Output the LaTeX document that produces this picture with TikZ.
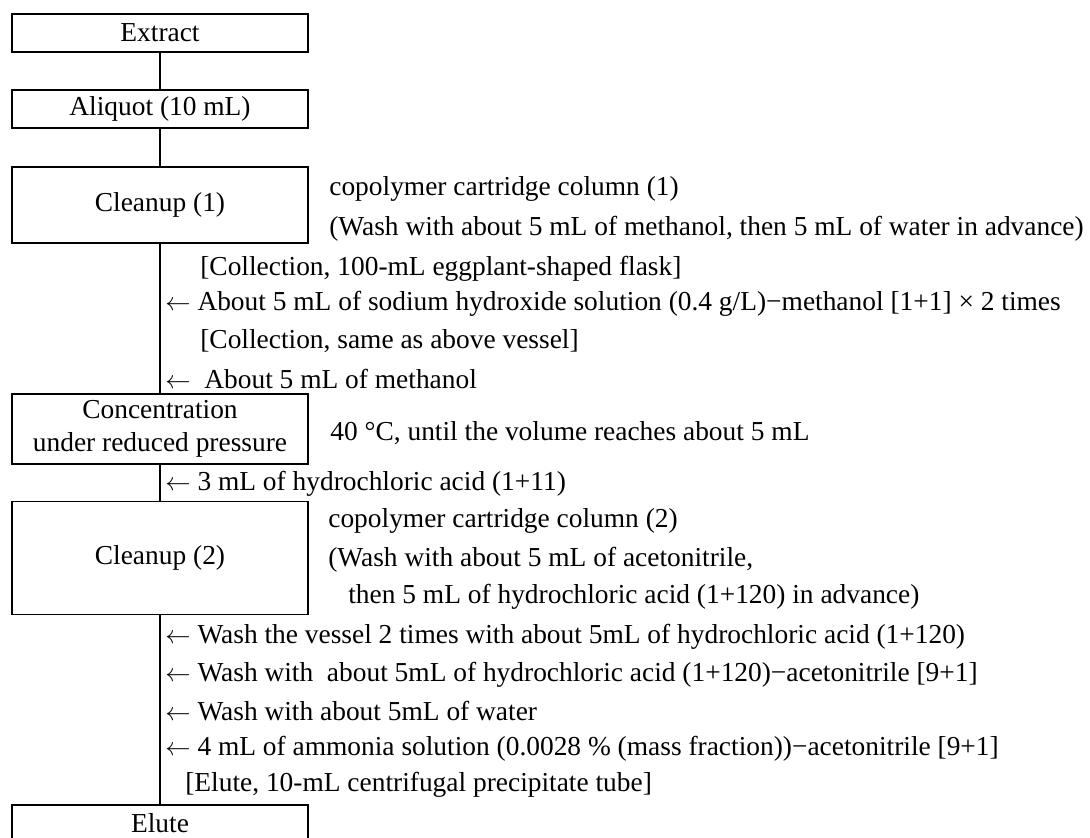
\documentclass[tikz,border=0pt]{standalone}
\usepackage{fontspec}
\setmainfont{Liberation Serif}
\begin{document}
\begin{tikzpicture}[x=0.02cm, y=-0.02cm, font=\fontsize{15.6}{18.5}\selectfont]

    \tikzset{
      stepbox/.style={draw, line width=0.9pt, minimum width=5.92cm, inner sep=0pt, align=center},
      note/.style={anchor=west, inner sep=0pt},
    }

    \useasboundingbox[fill=white] (0,0) rectangle (1090,838);

    % 框
    \node[stepbox, minimum height=0.76cm] (extract) at (160,33) {Extract};
    \node[stepbox, minimum height=0.76cm] (aliquot) at (160,109) {Aliquot (10 mL)};
    \node[stepbox, minimum height=1.52cm] (cleanA) at (160,205) {Cleanup (1)};
    \node[stepbox, minimum height=1.40cm] (conc) at (160,429) {Concentration\\under reduced pressure};
    \node[stepbox, minimum height=2.26cm] (cleanB) at (160,558) {Cleanup (2)};
    \node[stepbox, minimum height=0.72cm] (elute) at (160,823) {Elute};

    % 竖线
    \draw[line width=0.9pt] (extract) -- (aliquot);
    \draw[line width=0.9pt] (aliquot) -- (cleanA);
    \draw[line width=0.9pt] (cleanA) -- (conc);
    \draw[line width=0.9pt] (conc) -- (cleanB);
    \draw[line width=0.9pt] (cleanB) -- (elute);

    % 文字
    \node[note] (colA) at (329,189) {copolymer cartridge column (1)};
    \node[note] (washA) at (329,229) {(Wash with about 5 mL of methanol, then 5 mL of water in advance)};
    \node[note] (collA) at (200,269) {[Collection, 100-mL eggplant-shaped flask]};
    \node[note] (naoh) at (165,304) {$\leftarrow$ About 5 mL of sodium hydroxide solution (0.4 g/L)−methanol [1+1] × 2 times};
    \node[note] (collB) at (200,341) {[Collection, same as above vessel]};
    \node[note] (meoh) at (165,379) {$\leftarrow$\ \ About 5 mL of methanol};
    \node[note] (temp) at (330,433) {40 °C, until the volume reaches about 5 mL};
    \node[note] (hcl) at (165,484) {$\leftarrow$ 3 mL of hydrochloric acid (1+11)};
    \node[note] (colB) at (328,521) {copolymer cartridge column (2)};
    \node[note] (washB) at (328,560) {(Wash with about 5 mL of acetonitrile,};
    \node[note] (washC) at (348,597) {then 5 mL of hydrochloric acid (1+120) in advance)};
    \node[note] (vessel) at (165,637) {$\leftarrow$ Wash the vessel 2 times with about 5mL of hydrochloric acid (1+120)};
    \node[note] (hclwash) at (165,675) {$\leftarrow$ Wash with\ \ about 5mL of hydrochloric acid (1+120)−acetonitrile [9+1]};
    \node[note] (water) at (165,711) {$\leftarrow$ Wash with about 5mL of water};
    \node[note] (ammonia) at (165,749) {$\leftarrow$ 4 mL of ammonia solution (0.0028 \% (mass fraction))−acetonitrile [9+1]};
    \node[note] (tube) at (185,785) {[Elute, 10-mL centrifugal precipitate tube]};

  \end{tikzpicture}
\end{document}
